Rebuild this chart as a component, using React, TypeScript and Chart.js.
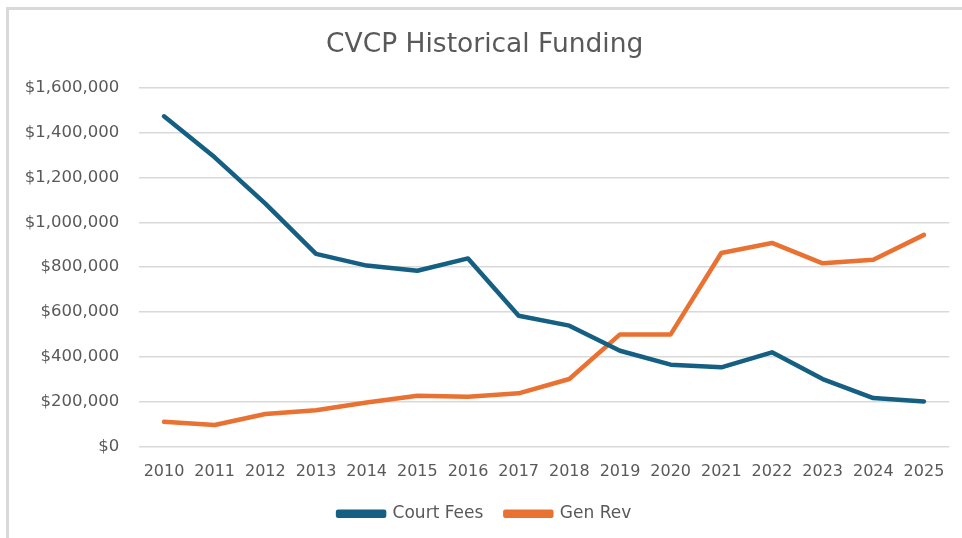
import React, { useEffect, useRef } from "react";
import { Chart, registerables } from "chart.js";

Chart.register(...registerables);

const years = ["2010", "2011", "2012", "2013", "2014", "2015", "2016", "2017", "2018", "2019", "2020", "2021", "2022", "2023", "2024", "2025"];
const courtFees = [1473000, 1290000, 1083000, 859000, 807000, 784000, 839000, 583000, 539000, 427000, 365000, 353000, 420000, 301000, 216000, 201000];
const genRev = [110000, 96000, 145000, 162000, 196000, 226000, 222000, 237000, 301000, 500000, 500000, 863000, 908000, 817000, 833000, 944000];
const yMax = 1600000;
const yStep = 200000;

const FONT = "'DejaVu Sans', sans-serif";
const TEXT = "#595959";
const GRID = "#d9d9d9";
const BLUE = "#156082";
const ORANGE = "#E97132";

export default function App() {
  const ref = useRef<HTMLCanvasElement | null>(null);

  useEffect(() => {
    if (!ref.current) return;
    const chart = new Chart(ref.current, {
      type: "line",
      data: {
        labels: years,
        datasets: [
          {
            label: "Court Fees",
            data: courtFees,
            borderColor: BLUE,
            backgroundColor: BLUE,
            borderWidth: 4.5,
            pointRadius: 0,
            borderCapStyle: "round",
            borderJoinStyle: "round",
            tension: 0,
          },
          {
            label: "Gen Rev",
            data: genRev,
            borderColor: ORANGE,
            backgroundColor: ORANGE,
            borderWidth: 4.5,
            pointRadius: 0,
            borderCapStyle: "round",
            borderJoinStyle: "round",
            tension: 0,
          },
        ],
      },
      options: {
        responsive: false,
        animation: false,
        devicePixelRatio: 1,
        layout: { padding: { top: 0, left: 20, right: 12.7, bottom: 5.7 } },
        plugins: {
          title: {
            display: true,
            text: "CVCP Historical Funding",
            color: TEXT,
            font: { family: FONT, size: 26.5, weight: "normal" },
            padding: { top: 29, bottom: 27 },
          },
          legend: {
            position: "bottom",
            labels: {
              color: TEXT,
              font: { family: FONT, size: 17 },
              boxWidth: 46,
              boxHeight: 4,
              padding: 22,
            },
          },
          tooltip: { enabled: false },
        },
        scales: {
          x: {
            offset: true,
            grid: { display: false, drawTicks: false },
            border: { display: false },
            ticks: {
              color: TEXT,
              font: { family: FONT, size: 16 },
              padding: 16,
              maxRotation: 0,
              autoSkip: false,
            },
            afterFit: (scale: any) => {
              scale.height = scale.height - 14.4;
            },
          },
          y: {
            min: 0,
            max: yMax,
            grid: { color: GRID, lineWidth: 1.5, drawTicks: false },
            border: { display: false },
            ticks: {
              stepSize: yStep,
              color: TEXT,
              font: { family: FONT, size: 16.5 },
              padding: 19.5,
              callback: (v: any) => "$" + Number(v).toLocaleString("en-US"),
            },
            afterFit: (scale: any) => {
              scale.width = 118.7;
            },
          },
        },
      },
    });
    return () => chart.destroy();
  }, []);

  return (
    <div style={{ position: "fixed", left: 0, top: 0, width: 962, height: 538, background: "#fff", overflow: "hidden" }}>
      <div
        style={{
          position: "absolute",
          left: 6,
          top: 7,
          width: 1000,
          height: 600,
          border: "3px solid #d9d9d9",
          boxSizing: "border-box",
        }}
      />
      <canvas ref={ref} width={962} height={538} style={{ position: "absolute", left: 0, top: 0, width: 962, height: 538 }} />
    </div>
  );
}
